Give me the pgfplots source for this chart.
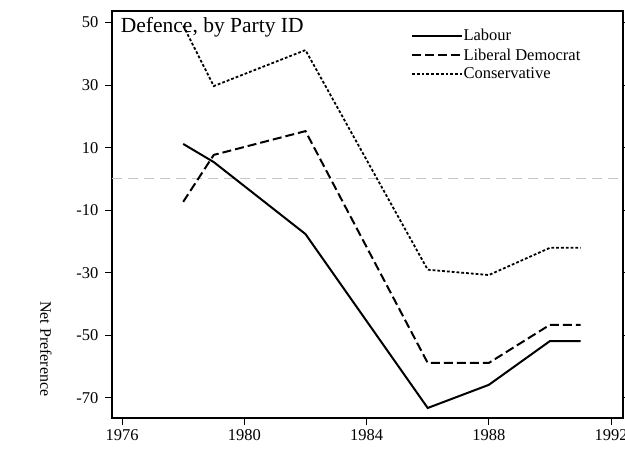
\documentclass[border=0pt]{standalone}
\usepackage{pgfplots}
\pgfplotsset{compat=1.18}
\usepackage{fontspec}
\setmainfont{Liberation Serif}
\usetikzlibrary{calc}
\begin{document}
\begin{tikzpicture}
\begin{axis}[
  scale only axis, width=511pt, height=407pt,
  xmin=1975.67, xmax=1992.39, ymin=-76.4, ymax=53.7,
  xtick={1976,1980,1984,1988,1992},
  ytick={-70,-50,-30,-10,10,30,50},
  xticklabel style={/pgf/number format/1000 sep={}, yshift=-1pt},
  yticklabel style={xshift=-3pt},
  /pgf/number format/assume math mode=true,
  tick label style={font=\fontsize{16.5}{18}\selectfont},
  tick align=outside, xtick pos=bottom, ytick pos=both,
  major tick length=7pt,
  tick style={black, line width=1pt},
  axis line style={black, line width=1.4pt},
  legend style={draw=none, fill=none, at={(0.579,0.962)}, anchor=north west,
    font=\fontsize{16.5}{18}\selectfont, row sep=5.5pt,
    nodes={inner sep=0.5pt}},
  legend cell align=left,
  legend image code/.code={\draw[#1] (0pt,0pt) -- (50pt,0pt);},
  clip=false,
]
\addplot[gray!45, line width=1pt, dash pattern=on 10pt off 6pt, forget plot] coordinates {(1975.67,0) (1992.39,0)};
\addplot[black, line width=2pt] coordinates {
(1978,11.2) (1979,5.4) (1982,-17.6) (1986,-73.2) (1988,-65.8) (1990,-51.8) (1991,-51.8)};
\addlegendentry{Labour}
\addplot[black, line width=2pt, dash pattern=on 9pt off 4pt] coordinates {
(1978,-7.3) (1979,7.7) (1982,15.3) (1986,-58.8) (1988,-58.8) (1990,-46.6) (1991,-46.6)};
\addlegendentry{Liberal Democrat}
\addplot[black, line width=1.8pt, dash pattern=on 2.8pt off 2pt] coordinates {
(1978,49) (1979,29.7) (1982,41.2) (1986,-29) (1988,-30.7) (1990,-22) (1991,-22)};
\addlegendentry{Conservative}
\node[anchor=north west, font=\fontsize{21.5}{24}\selectfont, inner sep=0pt] at (rel axis cs:0.017,0.985) {Defence, by Party ID};
\node[rotate=-90, font=\fontsize{16}{18}\selectfont] at ([xshift=-66pt]rel axis cs:0,0.17) {Net Preference};
\end{axis}
\pgfresetboundingbox
\useasboundingbox ($(current axis.south west)+(-112pt,-33pt)$) rectangle ($(current axis.north east)+(2pt,11pt)$);
\end{tikzpicture}
\end{document}
